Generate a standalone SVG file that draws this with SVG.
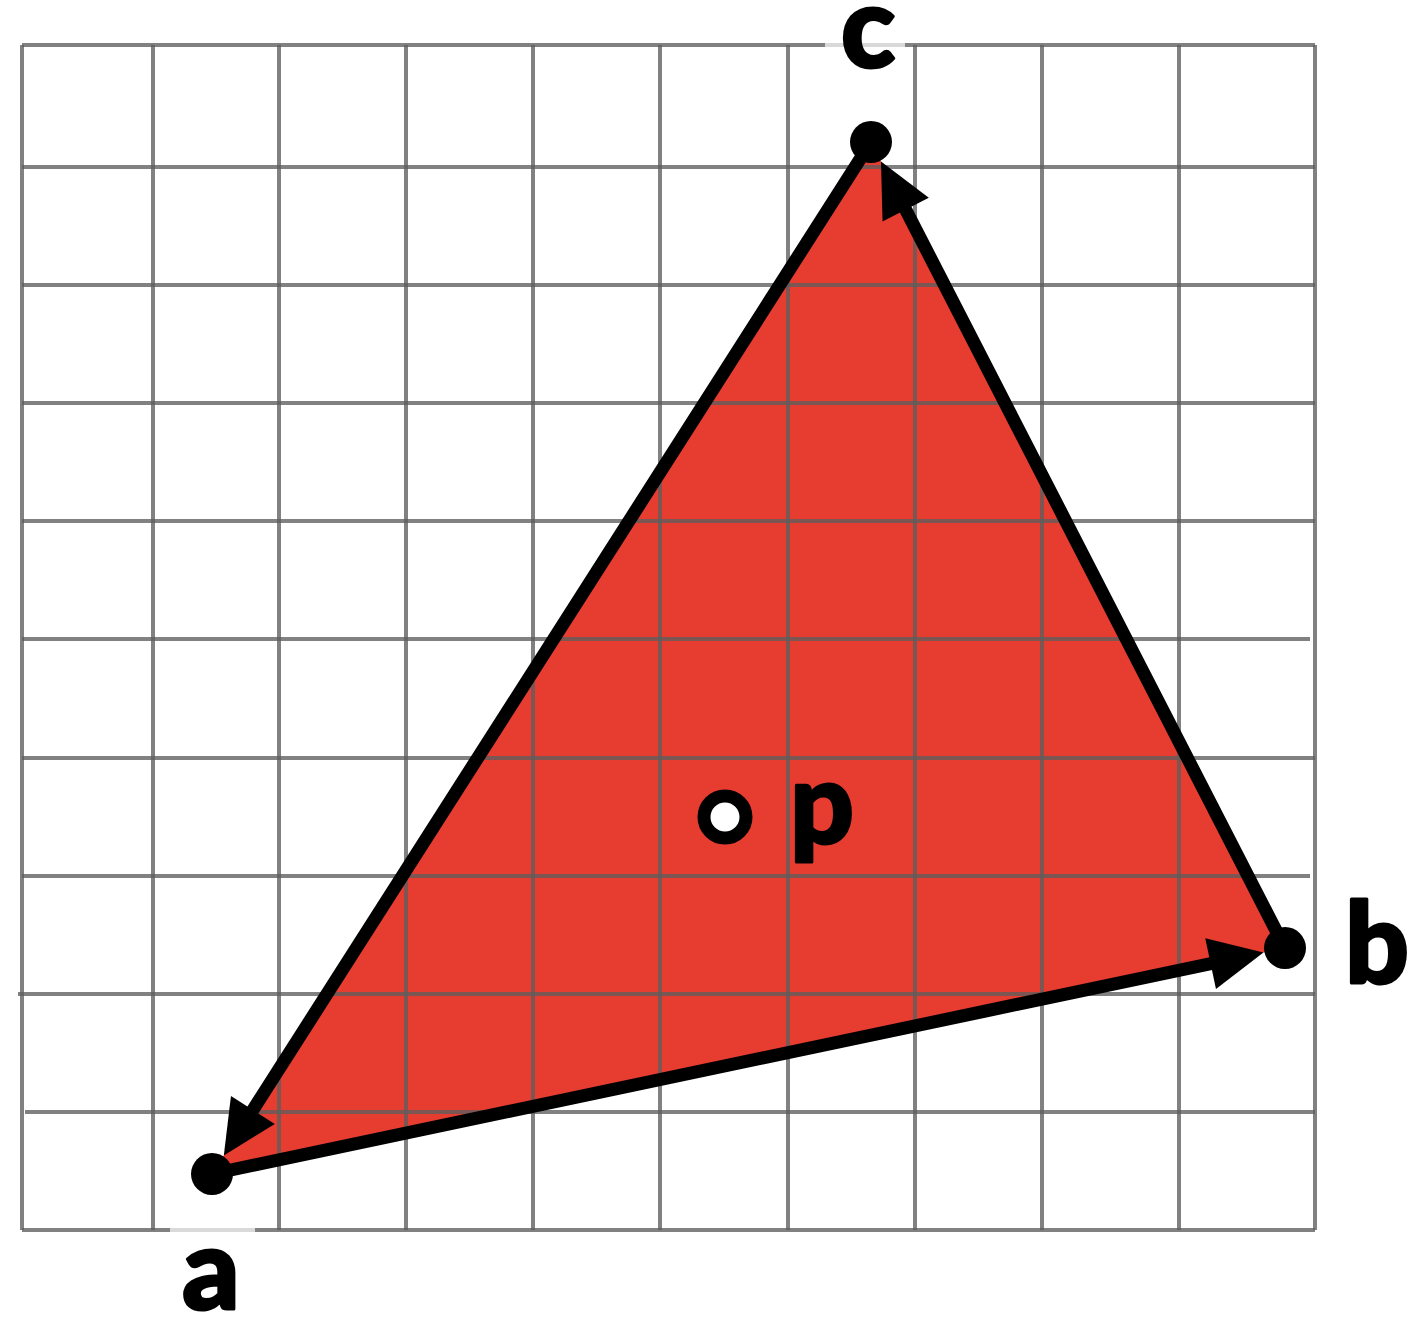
<svg xmlns="http://www.w3.org/2000/svg" width="1408" height="1320" viewBox="0 0 1408 1320">
<style>
.grid line{stroke:#5e5e5e;stroke-width:4;stroke-opacity:0.78}
.edge{stroke:#000;stroke-width:13;fill:none;stroke-linecap:round}
.lbl{font-family:Lato,"Liberation Sans",sans-serif;font-weight:900;font-size:112px;fill:#000;stroke:#000;stroke-width:3;stroke-linejoin:round}
.dot{fill:#000}
</style>
<defs>
<marker id="arr" markerUnits="userSpaceOnUse" viewBox="0 0 54 52" markerWidth="54" markerHeight="52" refX="10" refY="26" orient="auto" overflow="visible">
<path d="M0,0 L54,26 L0,52 z" fill="#000"/>
</marker>
</defs>
<rect width="1408" height="1320" fill="#fff"/>
<g id="triangle">
<polygon points="871,142 1285,948 212,1174" fill="#E73C30"/>
</g>
<g class="grid" id="grid">
<line x1="22" y1="45" x2="22" y2="1230"/>
<line x1="153" y1="45" x2="153" y2="1230"/>
<line x1="279" y1="45" x2="279" y2="1230"/>
<line x1="406" y1="45" x2="406" y2="1230"/>
<line x1="533" y1="45" x2="533" y2="1230"/>
<line x1="660" y1="45" x2="660" y2="1230"/>
<line x1="788" y1="45" x2="788" y2="1230"/>
<line x1="915" y1="45" x2="915" y2="1230"/>
<line x1="1042" y1="45" x2="1042" y2="1230"/>
<line x1="1179" y1="45" x2="1179" y2="1230"/>
<line x1="1315" y1="45" x2="1315" y2="1230"/>
<line x1="22" y1="45" x2="1315" y2="45"/>
<line x1="22" y1="167" x2="1315" y2="167"/>
<line x1="22" y1="285" x2="1315" y2="285"/>
<line x1="22" y1="403" x2="1315" y2="403"/>
<line x1="22" y1="521" x2="1315" y2="521"/>
<line x1="22" y1="639" x2="1310" y2="639"/>
<line x1="22" y1="758" x2="1315" y2="758"/>
<line x1="22" y1="876" x2="1310" y2="876"/>
<line x1="18" y1="994" x2="1315" y2="994"/>
<line x1="25" y1="1112" x2="1315" y2="1112"/>
<line x1="22" y1="1230" x2="1315" y2="1230"/>
</g>
<g id="label-bg" fill="#fff" fill-opacity="0.7">
<rect x="825" y="41" width="80" height="8"/>
<rect x="170" y="1226" width="85" height="8"/>
</g>
<g id="connectors">
<line class="edge" x1="871" y1="142" x2="247.5" y2="1118.4" marker-end="url(#arr)"/>
<line class="edge" x1="212" y1="1174" x2="1220.4" y2="961.6" marker-end="url(#arr)"/>
<line class="edge" x1="1285" y1="948" x2="901.1" y2="200.7" marker-end="url(#arr)"/>
</g>
<g id="node-a">
<circle class="dot" cx="212" cy="1174" r="21"/>
<text class="lbl" x="211" y="1309" text-anchor="middle">a</text>
</g>
<g id="node-b">
<circle class="dot" cx="1285" cy="948" r="21"/>
<text class="lbl" x="1345" y="983">b</text>
</g>
<g id="node-c">
<circle class="dot" cx="871" cy="142" r="21"/>
<text class="lbl" x="868" y="67" text-anchor="middle">c</text>
</g>
<g id="node-p">
<circle cx="725" cy="817" r="21" fill="#fff" stroke="#000" stroke-width="13"/>
<text class="lbl" x="790" y="843">p</text>
</g>
</svg>
